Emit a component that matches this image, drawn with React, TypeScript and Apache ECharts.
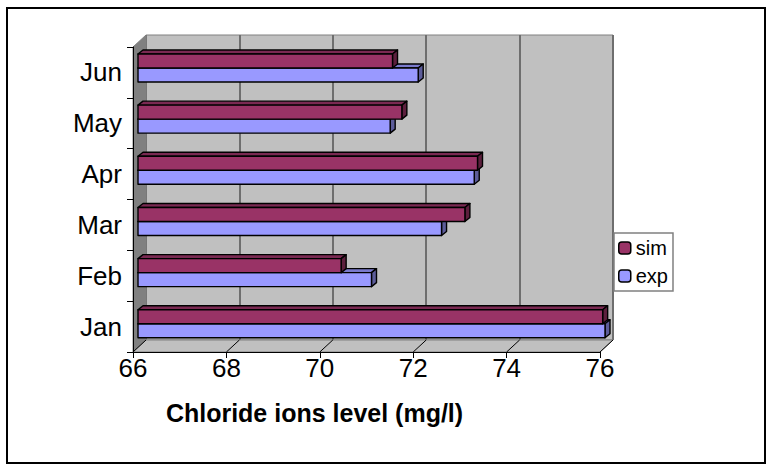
import React, { useEffect, useRef } from 'react';
import * as echarts from 'echarts';

const categories = ['Jan', 'Feb', 'Mar', 'Apr', 'May', 'Jun'];
const simValues = [75.95, 70.35, 73.0, 73.27, 71.65, 71.45];
const expValues = [76.0, 71.0, 72.5, 73.2, 71.4, 72.0];
const xTicks = [66, 68, 70, 72, 74, 76];
const xMin = 66;
const xMax = 76;

const FONT = '"Liberation Sans", Arial, sans-serif';

const FRONT = { left: 133, top: 47, width: 467, height: 305 };
const DEPTH = { dx: 13, dy: -12 };
const BAR_PLANE = { dx: 5, dy: -4.6 };
const BAR_DEPTH = { dx: 5, dy: -4 };
const BAR_H = 14;

function barRenderer(offset: number, face: string, top: string, side: string) {
  return (params: any, api: any) => {
    const cat = api.value(0);
    const val = api.value(1);
    const p0 = api.coord([xMin, cat]);
    const p1 = api.coord([val, cat]);
    const x0 = p0[0];
    const x1 = p1[0];
    const y = p0[1] + offset;
    const h = BAR_H;
    const dx = BAR_DEPTH.dx;
    const dy = BAR_DEPTH.dy;
    const ls = { stroke: '#000', lineWidth: 1.4, lineJoin: 'round' };
    return {
      type: 'group',
      children: [
        {
          type: 'polygon',
          shape: { points: [[x0, y], [x1, y], [x1 + dx, y + dy], [x0 + dx, y + dy]] },
          style: { fill: top, ...ls },
        },
        {
          type: 'polygon',
          shape: { points: [[x1, y], [x1 + dx, y + dy], [x1 + dx, y + h + dy], [x1, y + h]] },
          style: { fill: side, ...ls },
        },
        {
          type: 'rect',
          shape: { x: x0, y, width: x1 - x0, height: h },
          style: { fill: face, ...ls },
        },
      ],
    };
  };
}

export default function App() {
  const ref = useRef<HTMLDivElement>(null);
  useEffect(() => {
    document.body.style.margin = '0';
    if (!ref.current) return;
    const chart = echarts.init(ref.current, undefined, { renderer: 'svg' });

    const fx = (v: number) => FRONT.left + ((v - xMin) / (xMax - xMin)) * FRONT.width;
    const fBottom = FRONT.top + FRONT.height;
    const bLeft = FRONT.left + DEPTH.dx;
    const bTop = FRONT.top + DEPTH.dy;

    const floorLines = xTicks.map((v) => ({
      type: 'line',
      z: 1,
      shape: { x1: fx(v), y1: fBottom, x2: fx(v) + DEPTH.dx, y2: fBottom + DEPTH.dy },
      style: { stroke: '#000', lineWidth: 1 },
    }));

    const option: any = {
      animation: false,
      backgroundColor: '#fff',
      textStyle: { fontFamily: FONT },
      grid: [
        { left: FRONT.left, top: FRONT.top, width: FRONT.width, height: FRONT.height, z: 10 },
        {
          left: FRONT.left + BAR_PLANE.dx,
          top: FRONT.top + BAR_PLANE.dy,
          width: FRONT.width,
          height: 307,
        },
        {
          left: bLeft,
          top: bTop,
          width: FRONT.width,
          height: FRONT.height,
          show: true,
          backgroundColor: '#c0c0c0',
          borderColor: '#808080',
          borderWidth: 1,
          z: 0,
        },
      ],
      xAxis: [
        {
          gridIndex: 0,
          type: 'value',
          min: xMin,
          max: xMax,
          interval: 2,
          z: 10,
          axisLine: { show: true, lineStyle: { color: '#000', width: 1 } },
          axisTick: { show: true, length: 6, lineStyle: { color: '#000' } },
          axisLabel: { fontSize: 26, color: '#000', margin: 3, fontFamily: FONT },
          splitLine: { show: false },
          name: 'Chloride ions level (mg/l)',
          nameLocation: 'middle',
          nameGap: 48,
          nameTextStyle: {
            fontSize: 25,
            fontWeight: 'bold',
            color: '#000',
            fontFamily: FONT,
            padding: [0, 104, 0, 0],
          },
        },
        { gridIndex: 1, type: 'value', min: xMin, max: xMax, show: false },
        {
          gridIndex: 2,
          type: 'value',
          min: xMin,
          max: xMax,
          interval: 2,
          axisLine: { show: false },
          axisTick: { show: false },
          axisLabel: { show: false },
          splitLine: { show: true, lineStyle: { color: '#6e6e6e', width: 2 } },
        },
      ],
      yAxis: [
        {
          gridIndex: 0,
          type: 'category',
          data: categories,
          z: 10,
          axisLine: { show: true, lineStyle: { color: '#000', width: 1 } },
          axisTick: { show: true, length: 6, lineStyle: { color: '#000' } },
          axisLabel: { fontSize: 26, color: '#000', margin: 11, fontFamily: FONT },
          splitLine: { show: false },
        },
        { gridIndex: 1, type: 'category', data: categories, show: false },
        { gridIndex: 2, type: 'category', data: categories, show: false },
      ],
      legend: {
        data: ['sim', 'exp'],
        orient: 'vertical',
        left: 614,
        top: 233,
        itemWidth: 12,
        itemHeight: 12,
        itemGap: 8,
        itemTextGap: 4,
        padding: [5, 5, 5, 4],
        borderColor: '#808080',
        borderWidth: 1.5,
        backgroundColor: '#fff',
        itemStyle: { borderColor: '#000', borderWidth: 1.5 },
        textStyle: { fontSize: 20, color: '#000', fontFamily: FONT },
      },
      graphic: [
        {
          type: 'polygon',
          z: 1,
          shape: {
            points: [
              [FRONT.left, FRONT.top],
              [bLeft, bTop],
              [bLeft, bTop + FRONT.height],
              [FRONT.left, fBottom],
            ],
          },
          style: { fill: '#808080', stroke: '#808080', lineWidth: 1 },
        },
        {
          type: 'polygon',
          z: 1,
          shape: {
            points: [
              [FRONT.left, fBottom],
              [FRONT.left + FRONT.width, fBottom],
              [bLeft + FRONT.width, bTop + FRONT.height],
              [bLeft, bTop + FRONT.height],
            ],
          },
          style: { fill: '#c0c0c0', stroke: '#808080', lineWidth: 1 },
        },
        ...floorLines,
        {
          type: 'rect',
          z: 20,
          shape: { x: 7, y: 8, width: 758, height: 455 },
          style: { fill: 'none', stroke: '#000', lineWidth: 2 },
        },
      ],
      series: [
        {
          name: 'exp',
          type: 'custom',
          xAxisIndex: 1,
          yAxisIndex: 1,
          z: 5,
          clip: false,
          itemStyle: { color: '#9999ff' },
          encode: { x: 1, y: 0 },
          data: expValues.map((v, i) => [i, v]),
          renderItem: barRenderer(0, '#9999ff', '#7a7acc', '#5c5c99'),
        },
        {
          name: 'sim',
          type: 'custom',
          xAxisIndex: 1,
          yAxisIndex: 1,
          z: 6,
          clip: false,
          itemStyle: { color: '#993366' },
          encode: { x: 1, y: 0 },
          data: simValues.map((v, i) => [i, v]),
          renderItem: barRenderer(-BAR_H, '#993366', '#7a2952', '#5c1f3d'),
        },
      ],
    };
    chart.setOption(option);
    return () => chart.dispose();
  }, []);
  return <div ref={ref} style={{ width: 772, height: 470 }} />;
}
